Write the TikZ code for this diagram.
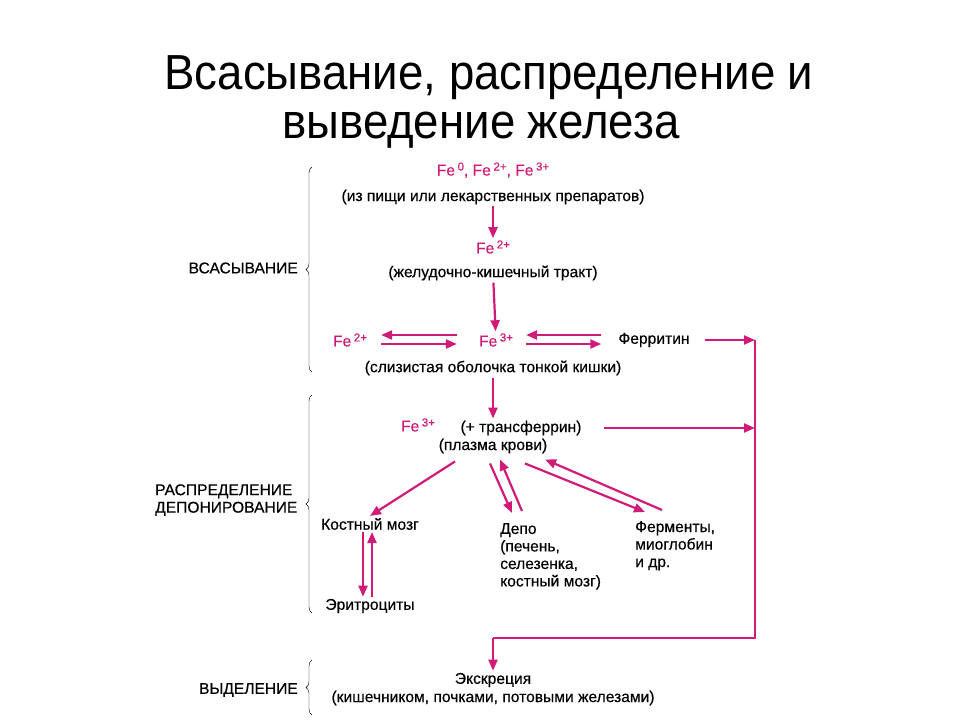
\documentclass[tikz,border=0pt]{standalone}
\usepackage{fontspec}
\setmainfont{Liberation Sans}
\newfontfamily\diafont[FakeBold=0.4]{Liberation Sans}
\usetikzlibrary{arrows.meta}
\usetikzlibrary{decorations.pathreplacing}
\definecolor{fecol}{RGB}{208,28,120}
\newcommand{\feion}[1]{Fe\,\raisebox{5pt}{\fontsize{11.5}{11.5}\selectfont #1}}
\tikzset{
  lbl/.style={font=\diafont\fontsize{15.6}{17.5}\selectfont, inner sep=2pt},
  fe/.style={lbl, text=fecol},
  ttl/.style={font=\fontsize{45.6}{50}\selectfont, anchor=base, inner sep=0pt},
  arr/.style={draw=fecol, line width=2.2pt, -{Triangle[length=11pt,width=9pt]}},
  fline/.style={draw=fecol, line width=2.4pt},
  brc/.style={decorate, decoration={brace, amplitude=6pt}, thin},
}

\begin{document}
\begin{tikzpicture}[x=1pt, y=-1pt]
    \fill[white] (0,0) rectangle (960,720);
    \useasboundingbox (0,0) rectangle (960,720);
    %
    \node[ttl] (t1) at (489,89) {\scalebox{1}[1.08]{Всасывание, распределение и}};
    \node[ttl] (t2) at (481,138) {\scalebox{1}[1.08]{выведение железа}};
    %
    \draw[brc] (312,372) -- (312,167);
    \draw[brc] (312,613) -- (312,395);
    \draw[brc] (312,715) -- (312,660);
    \node[lbl, anchor=east] (absl) at (300,268) {ВСАСЫВАНИЕ};
    \node[lbl, anchor=west, align=left] (distl) at (153,500) {РАСПРЕДЕЛЕНИЕ\\ДЕПОНИРОВАНИЕ};
    \node[lbl, anchor=east] (excl) at (300,690) {ВЫДЕЛЕНИЕ};
    %
    \node[fe] (src) at (493,170) {\feion{0}, \feion{2+}, \feion{3+}};
    \node[lbl] (food) at (493,197) {(из пищи или лекарственных препаратов)};
    \node[fe] (fe2gi) at (493,247) {\feion{2+}};
    \node[lbl] (gi) at (493,273) {(желудочно-кишечный тракт)};
    \node[fe] (fe2m) at (350,340) {\feion{2+}};
    \node[fe] (fe3m) at (496,340) {\feion{3+}};
    \node[lbl] (ferr) at (654,340) {Ферритин};
    \node[lbl] (muc) at (493,368) {(слизистая оболочка тонкой кишки)};
    \node[fe] (fe3p) at (418,425) {\feion{3+}};
    \node[lbl] (tf) at (521,428) {(+ трансферрин)};
    \node[lbl] (plasma) at (493,446) {(плазма крови)};
    \node[lbl] (bone) at (370,524) {Костный мозг};
    \node[lbl, align=left, anchor=north west] (depo) at (498,521) {Депо\\(печень,\\селезенка,\\костный мозг)};
    \node[lbl, align=left, anchor=north west] (enz) at (633,519) {Ферменты,\\миоглобин\\и др.};
    \node[lbl] (ery) at (370,606) {Эритроциты};
    \node[lbl] (exc) at (493,680) {Экскреция};
    \node[lbl] (excw) at (493,698) {(кишечником, почками, потовыми железами)};
    %
    \coordinate (rt) at (755,340);
    \coordinate (rm) at (755,428);
    \coordinate (rb) at (755,638);
    \coordinate (lb) at (493,638);
    %
    \draw[arr] (food) -- (fe2gi);
    \draw[arr] (gi) -- (fe3m);
    \draw[arr, shorten <=20pt, shorten >=12pt] ([yshift=5pt]fe3m.west) -- ([yshift=5pt]fe2m.east);
    \draw[arr, shorten <=12pt, shorten >=20pt] ([yshift=-4pt]fe2m.east) -- ([yshift=-4pt]fe3m.west);
    \draw[arr, shorten <=15pt, shorten >=11pt] ([yshift=5pt]ferr.west) -- ([yshift=5pt]fe3m.east);
    \draw[arr, shorten <=11pt, shorten >=15pt] ([yshift=-4pt]fe3m.east) -- ([yshift=-4pt]ferr.west);
    \draw[arr, shorten <=13pt] (ferr) -- (rt);
    \draw[arr] (muc.south) -- (muc.south |- tf.north);
    \draw[arr, shorten <=20pt] (tf) -- (rm);
    \draw[fline] (rt) -- (rb) -- (lb);
    \draw[arr] (lb) -- (exc);
    %
    \draw[arr] ([shift={(-38,6)}]plasma.south) -- (bone.north);
    \draw[arr] ([shift={(-3,8)}]plasma.south) -- ([shift={(14,-8)}]depo.north west);
    \draw[arr] ([shift={(24,-10)}]depo.north west) -- ([shift={(7,4)}]plasma.south);
    \draw[arr] ([shift={(32,8)}]plasma.south) -- ([shift={(12,-7)}]enz.north west);
    \draw[arr] ([shift={(29,-9)}]enz.north west) -- ([shift={(52,4)}]plasma.south);
    \draw[arr] ([xshift=-7pt]bone.south) -- ([xshift=-7pt]ery.north);
    \draw[arr] ([xshift=2pt]ery.north) -- ([xshift=2pt]bone.south);
\end{tikzpicture}
\end{document}
